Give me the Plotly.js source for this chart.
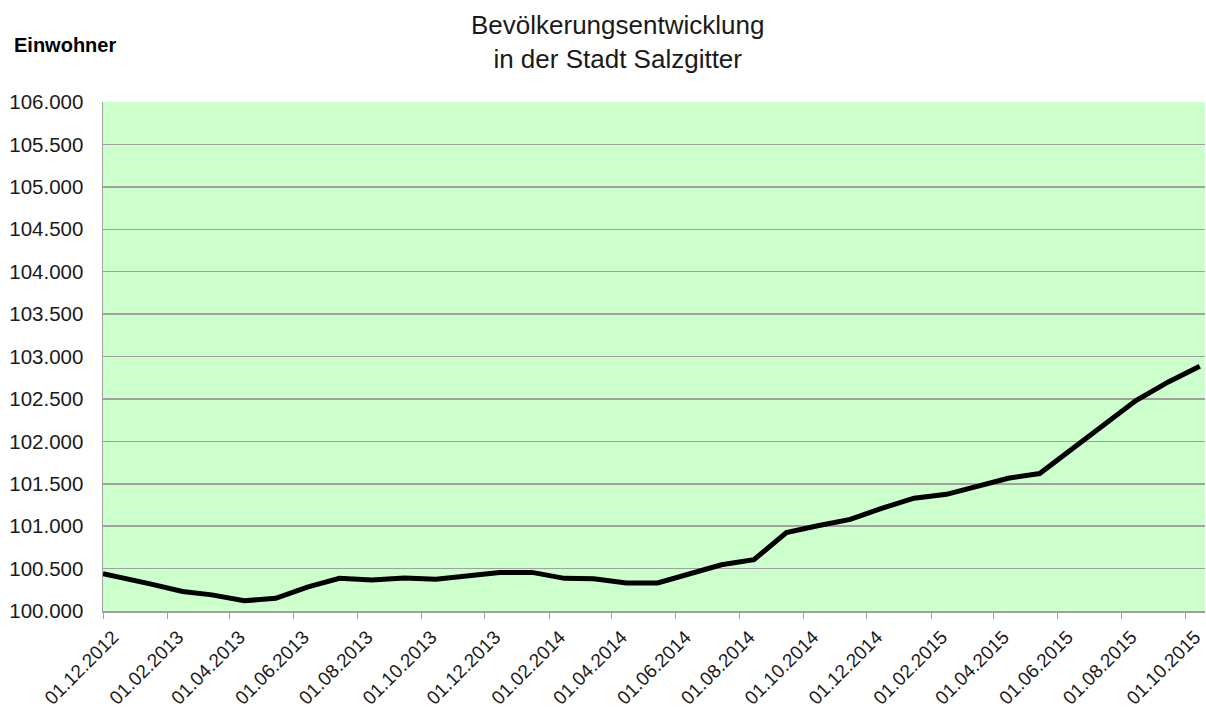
<!DOCTYPE html>
<html>
<head>
<meta charset="utf-8">
<script src="https://cdn.plot.ly/plotly-3.0.1.min.js"></script>
<style>html,body{margin:0;padding:0;background:#fff;}#chart{width:1206px;height:711px;}</style>
</head>
<body>
<div id="chart"></div>
<script>
const dates = [
  '2012-12-01','2012-12-15',
  '2013-01-15','2013-02-15','2013-03-15','2013-04-15','2013-05-15','2013-06-15',
  '2013-07-15','2013-08-15','2013-09-15','2013-10-15','2013-11-15','2013-12-15',
  '2014-01-15','2014-02-15','2014-03-15','2014-04-15','2014-05-15','2014-06-15',
  '2014-07-15','2014-08-15','2014-09-15','2014-10-15','2014-11-15','2014-12-15',
  '2015-01-15','2015-02-15','2015-03-15','2015-04-15','2015-05-15','2015-06-15',
  '2015-07-15','2015-08-15','2015-09-15','2015-10-15'
];
const einwohner = [
  100440, 100405,
  100320, 100230, 100190, 100120, 100150, 100285,
  100385, 100365, 100390, 100375, 100415, 100455,
  100455, 100385, 100380, 100330, 100330, 100440,
  100545, 100605, 100925, 101005, 101080, 101210,
  101330, 101375, 101470, 101565, 101620, 101910,
  102195, 102480, 102700, 102885
];
const titleLines = ['Bevölkerungsentwicklung', 'in der Stadt Salzgitter'];
const yLabel = 'Einwohner';
const xRange = ['2012-12-01', '2015-10-20'];
const yRange = [100000, 106000];

const font = 'Liberation Sans, Arial, sans-serif';

Plotly.newPlot('chart', [{
  x: dates,
  y: einwohner,
  type: 'scatter',
  mode: 'lines',
  line: {color: '#000000', width: 5},
  hoverinfo: 'x+y'
}], {
  width: 1206,
  height: 711,
  margin: {l: 103, r: 1, t: 102, b: 100},
  paper_bgcolor: '#ffffff',
  plot_bgcolor: '#ccffcc',
  separators: ',.',
  showlegend: false,
  font: {family: font, color: '#1a1a1a'},
  xaxis: {
    type: 'date',
    range: xRange,
    tick0: '2012-12-01',
    dtick: 'M2',
    tickformat: '%d.%m.%Y',
    tickangle: -45,
    ticks: 'outside',
    ticklen: 6,
    tickcolor: '#a0a0a0',
    ticklabelshift: 10,
    ticklabelstandoff: 0,
    showgrid: false,
    showline: true,
    linecolor: '#a0a0a0',
    linewidth: 1.5,
    zeroline: false,
    tickfont: {family: font, size: 19, color: '#1a1a1a'}
  },
  yaxis: {
    range: yRange,
    dtick: 500,
    tickformat: ',d',
    ticks: '',
    ticklabelstandoff: 14,
    showgrid: true,
    gridcolor: '#a0a0a0',
    gridwidth: 1.5,
    showline: true,
    linecolor: '#a0a0a0',
    linewidth: 1.5,
    zeroline: false,
    tickfont: {family: font, size: 20.5, color: '#1a1a1a'}
  },
  annotations: [{
    text: titleLines.join('<br>'),
    xref: 'paper', yref: 'paper',
    x: (617 - 103) / 1102, xanchor: 'center',
    y: (611 - 8) / 509, yanchor: 'top',
    showarrow: false,
    font: {family: font, size: 26, color: '#1a1a1a'}
  }, {
    text: '<b>' + yLabel + '</b>',
    xref: 'paper', yref: 'paper',
    x: -0.0826, xanchor: 'left',
    y: 1.112, yanchor: 'middle',
    showarrow: false,
    font: {family: font, size: 20, color: '#000000'}
  }]
}, {displayModeBar: false, staticPlot: true});
</script>
</body>
</html>
